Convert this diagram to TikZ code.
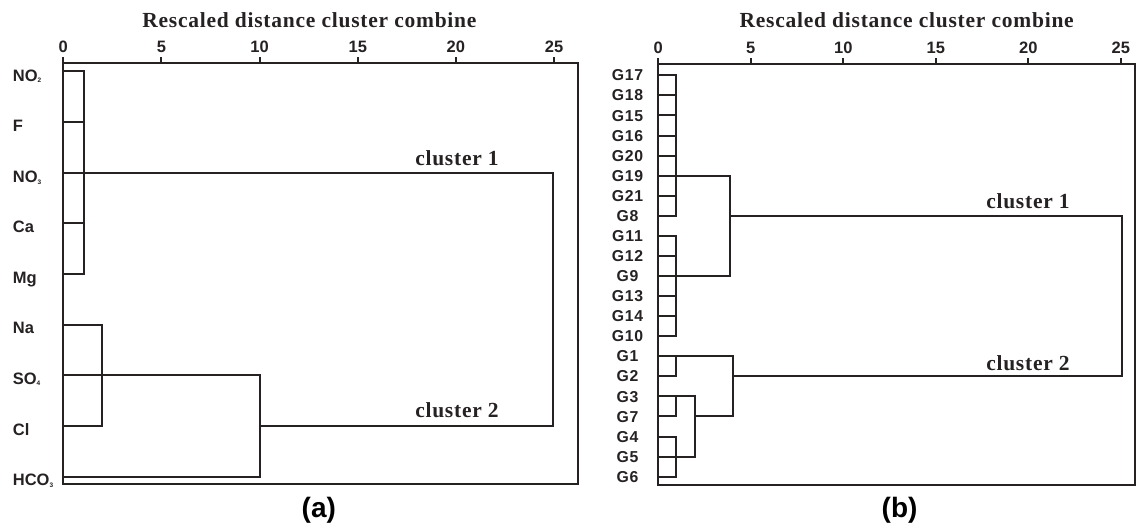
\documentclass[tikz,border=0pt]{standalone}
\usepackage{fontspec}
\setmainfont{Liberation Sans}
\newfontfamily\ttlfont[LetterSpace=3.5]{Liberation Serif}
\newfontfamily\gfont[LetterSpace=5]{Liberation Sans}
\definecolor{ink}{RGB}{38,34,34}
\newcommand\chsub[1]{\raisebox{-1.5pt}{\fontsize{6.5}{6.5}\selectfont #1}}

\begin{document}
\begin{tikzpicture}[x=1pt,y=-1pt,
  dl/.style={draw=ink,line width=2pt,line cap=rect},
  frm/.style={draw=ink,line width=2pt},
  ttl/.style={font=\ttlfont\bfseries\fontsize{21.5}{24}\selectfont,text=ink,anchor=base,inner sep=0pt},
  tick/.style={font=\bfseries\fontsize{16.5}{18}\selectfont,text=ink,anchor=base,inner sep=0pt},
  llab/.style={font=\bfseries\fontsize{16.5}{18}\selectfont,text=ink,anchor=base west,inner sep=0pt},
  rlab/.style={font=\gfont\bfseries\fontsize{15.8}{18}\selectfont,text=ink,anchor=base,inner sep=0pt},
  plab/.style={font=\bfseries\fontsize{28}{30}\selectfont,text=black,anchor=base,inner sep=0pt}]
\useasboundingbox (0,0) rectangle (1137,524);

% ---------------- panel (a) ----------------
\draw[frm] (63,63) rectangle (578,484);
\foreach \k in {0,5,10,15,20,25}{
  \draw[frm] ({round(63.3+19.63*\k)},63) -- ({round(63.3+19.63*\k)},57);
  \node[tick] (at\k) at ({63.3+19.63*\k},52.7) {\k};
}
\node[ttl] (atitle) at (309.4,27.3) {Rescaled distance cluster combine};

% merge levels
\coordinate (aa1)  at (84,0);
\coordinate (aa2)  at (102,0);
\coordinate (aa10) at (260,0);
\coordinate (aa25) at (553,0);

% leaves
\foreach \n [count=\i from 0] in {NO2,F,NO3,Ca,Mg,Na,SO4,Cl,HCO3}
  \coordinate (A\n) at (63,{round(71.3+50.68*\i)});

\node[llab] (lNO2)  at (12.7,{71.3+10})  {NO\chsub{2}};
\node[llab] (lF)    at (12.7,{121.98+10}) {F};
\node[llab] (lNO3)  at (12.7,{172.66+10}) {NO\chsub{3}};
\node[llab] (lCa)   at (12.7,{223.34+9}) {Ca};
\node[llab] (lMg)   at (12.7,{274.02+9}) {Mg};
\node[llab] (lNa)   at (12.7,{324.7+9})  {Na};
\node[llab] (lSO4)  at (12.7,{375.38+9}) {SO\chsub{4}};
\node[llab] (lCl)   at (12.7,{426.06+9}) {Cl};
\node[llab] (lHCO3) at (12.7,{476.74+9}) {HCO\chsub{3}};

\draw[dl] (ANO2) -| (aa1 |- AMg) -- (AMg);
\draw[dl] (AF) -- (AF -| aa1);
\draw[dl] (ACa) -- (ACa -| aa1);
\draw[dl] (ANO3) -- (ANO3 -| aa25) -- (aa25 |- ACl) -- (ACl -| aa10);
\draw[dl] (ANa) -| (aa2 |- ACl) -- (ACl);
\draw[dl] (ASO4) -| (aa10 |- AHCO3) -- (AHCO3);

\node[ttl] (ac1) at (457,165) {cluster 1};
\node[ttl] (ac2) at (457,417.7) {cluster 2};
\node[plab] (pa) at (318.8,517.4) {(a)};

% ---------------- panel (b) ----------------
\draw[frm] (658,64) rectangle (1135,485);
\foreach \k in {0,5,10,15,20,25}{
  \draw[frm] ({round(658.3+18.5*\k)},64) -- ({round(658.3+18.5*\k)},58);
  \node[tick] (bt\k) at ({658.3+18.5*\k},53.5) {\k};
}
\node[ttl] (btitle) at (906.7,28) {Rescaled distance cluster combine};

\coordinate (rb1)  at (676,0);
\coordinate (rd2)  at (695,0);
\coordinate (rc1)  at (730,0);
\coordinate (rc2)  at (733,0);
\coordinate (r25)  at (1122,0);

\foreach \n [count=\i from 0] in {G17,G18,G15,G16,G20,G19,G21,G8,G11,G12,G9,G13,G14,G10,G1,G2,G3,G7,G4,G5,G6}{
  \coordinate (R\n) at (658,{round(75.3+20.07*\i)});
  \node[rlab] (l\n) at (627.5,{75.3+20.07*\i+5.6}) {\n};
}

\draw[dl] (RG17) -| (rb1 |- RG8) -- (RG8);
\foreach \n in {G18,G15,G16,G20,G21,G12,G13,G14}
  \draw[dl] (R\n) -- (R\n -| rb1);
\draw[dl] (RG19) -| (rc1 |- RG9) -- (RG9);
\draw[dl] (RG11) -| (rb1 |- RG10) -- (RG10);
\draw[dl] (RG8 -| rc1) -- (RG8 -| r25) -- (r25 |- RG2) -- (RG2 -| rc2);
\draw[dl] (RG1) -| (rc2 |- RG7) -- (RG7 -| rd2);
\draw[dl] (RG2) -| (rb1 |- RG1);
\draw[dl] (RG3) -| (rd2 |- RG5) -- (RG5);
\draw[dl] (RG7) -| (rb1 |- RG3);
\draw[dl] (RG4) -| (rb1 |- RG6) -- (RG6);

\node[ttl] (bc1) at (1028,208.3) {cluster 1};
\node[ttl] (bc2) at (1028,370) {cluster 2};
\node[plab] (pb) at (899.6,517.4) {(b)};
\end{tikzpicture}
\end{document}
